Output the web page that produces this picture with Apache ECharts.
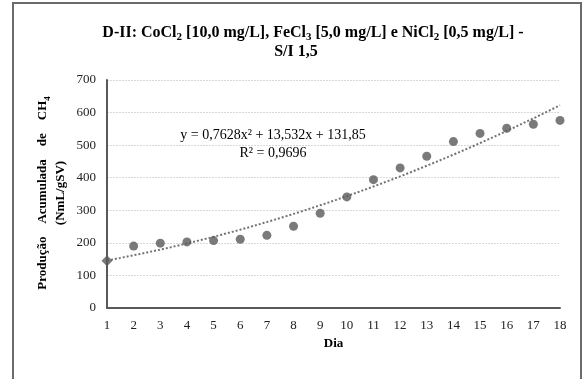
<!DOCTYPE html>
<html>
<head>
<meta charset="utf-8">
<script src="https://cdn.jsdelivr.net/npm/echarts@6/dist/echarts.min.js"></script>
<style>
  html, body { margin: 0; padding: 0; background: #ffffff; }
  #chart { width: 583px; height: 379px; }
</style>
</head>
<body>
<div id="chart"></div>
<script>
// Cumulative CH4 production per day (NmL/gSV)
const days = [1, 2, 3, 4, 5, 6, 7, 8, 9, 10, 11, 12, 13, 14, 15, 16, 17, 18];
const production = [145, 190, 199, 203, 207, 211, 223, 251, 291, 341, 394, 430, 466, 511, 536, 552, 564, 576];

// Polynomial trend (order 2): y = a*x^2 + b*x + c, as given in the equation label
const trendCoefficients = [0.7628, 13.532, 131.85];
const trendLabel = 'y = 0,7628x² + 13,532x + 131,85';
const r2Label = 'R² = 0,9696';

const yMin = 0, yMax = 700, yStep = 100;
const xMin = 1, xMax = 18, xStep = 1;

const serif = "'Liberation Serif', 'Times New Roman', serif";
const axisColor = '#595959';
const markColor = '#595959';

function trendValue(x) {
  const [a, b, c] = trendCoefficients;
  return a * x * x + b * x + c;
}
const trendPoints = [];
for (let i = 0; i <= (xMax - xMin) * 10; i++) {
  const x = xMin + i / 10;
  trendPoints.push([x, trendValue(x)]);
}

const scatterData = days.map((d, i) => {
  const item = { value: [d, production[i]] };
  if (i === 0) { item.symbol = 'diamond'; item.symbolSize = 11; }
  return item;
});

const subStyle = (size) => ({
  fontFamily: serif, fontWeight: 'bold', fontSize: size,
  lineHeight: size, verticalAlign: 'bottom', fill: '#000'
});

const chart = echarts.init(document.getElementById('chart'), null, { renderer: 'canvas' });

chart.setOption({
  animation: false,
  backgroundColor: '#ffffff',
  grid: { left: 107, right: 23, top: 80, bottom: 71, containLabel: false },
  xAxis: {
    type: 'value',
    min: xMin, max: xMax, interval: xStep,
    name: 'Dia',
    nameLocation: 'middle',
    nameGap: 28,
    nameTextStyle: { fontFamily: serif, fontWeight: 'bold', fontSize: 13, color: '#000' },
    axisLine: { show: true, onZero: false, lineStyle: { color: axisColor, width: 2 } },
    axisTick: { show: false },
    splitLine: { show: false },
    axisLabel: { fontFamily: serif, fontSize: 13, color: '#222', margin: 11 }
  },
  yAxis: {
    type: 'value',
    min: yMin, max: yMax, interval: yStep,
    axisLine: { show: true, lineStyle: { color: axisColor, width: 2 } },
    axisTick: { show: false },
    splitLine: { show: true, lineStyle: { color: '#d9d9d9', width: 1, type: [2, 1] } },
    axisLabel: { fontFamily: serif, fontSize: 13, color: '#222', margin: 11 }
  },
  series: [
    {
      name: 'Tendência',
      type: 'line',
      data: trendPoints,
      showSymbol: false,
      smooth: false,
      silent: true,
      lineStyle: { color: '#737373', width: 2, type: [2, 2], cap: 'butt' },
      z: 2
    },
    {
      name: 'Produção',
      type: 'scatter',
      data: scatterData,
      symbol: 'circle',
      symbolSize: 9,
      itemStyle: { color: markColor },
      z: 3
    }
  ],
  graphic: [
    {
      type: 'rect',
      shape: { x: 13, y: 3, width: 568, height: 420 },
      style: { fill: 'none', stroke: '#6b6b6b', lineWidth: 2 },
      silent: true
    },
    {
      type: 'text',
      x: 313, y: 33,
      style: {
        text: 'D-II: CoCl{s|2} [10,0 mg/L], FeCl{s|3} [5,0 mg/L] e NiCl{s|2} [0,5 mg/L] -',
        fontFamily: serif, fontWeight: 'bold', fontSize: 16, lineHeight: 19,
        fill: '#000', align: 'center', verticalAlign: 'middle',
        rich: { s: subStyle(11) }
      }
    },
    {
      type: 'text',
      x: 296, y: 52,
      style: {
        text: 'S/I 1,5',
        fontFamily: serif, fontWeight: 'bold', fontSize: 16,
        fill: '#000', align: 'center', verticalAlign: 'middle'
      }
    },
    {
      type: 'text',
      x: 52, y: 193,
      rotation: Math.PI / 2,
      style: {
        text: 'Produção    Acumulada    de    CH{s|4}\n(NmL/gSV)',
        fontFamily: serif, fontWeight: 'bold', fontSize: 13, lineHeight: 18,
        fill: '#000', align: 'center', verticalAlign: 'middle',
        rich: { s: subStyle(9) }
      }
    },
    {
      type: 'text',
      x: 273, y: 144,
      style: {
        text: trendLabel + '\n' + r2Label,
        fontFamily: serif, fontSize: 14, lineHeight: 18,
        fill: '#000', align: 'center', verticalAlign: 'middle'
      }
    }
  ]
});
</script>
</body>
</html>
